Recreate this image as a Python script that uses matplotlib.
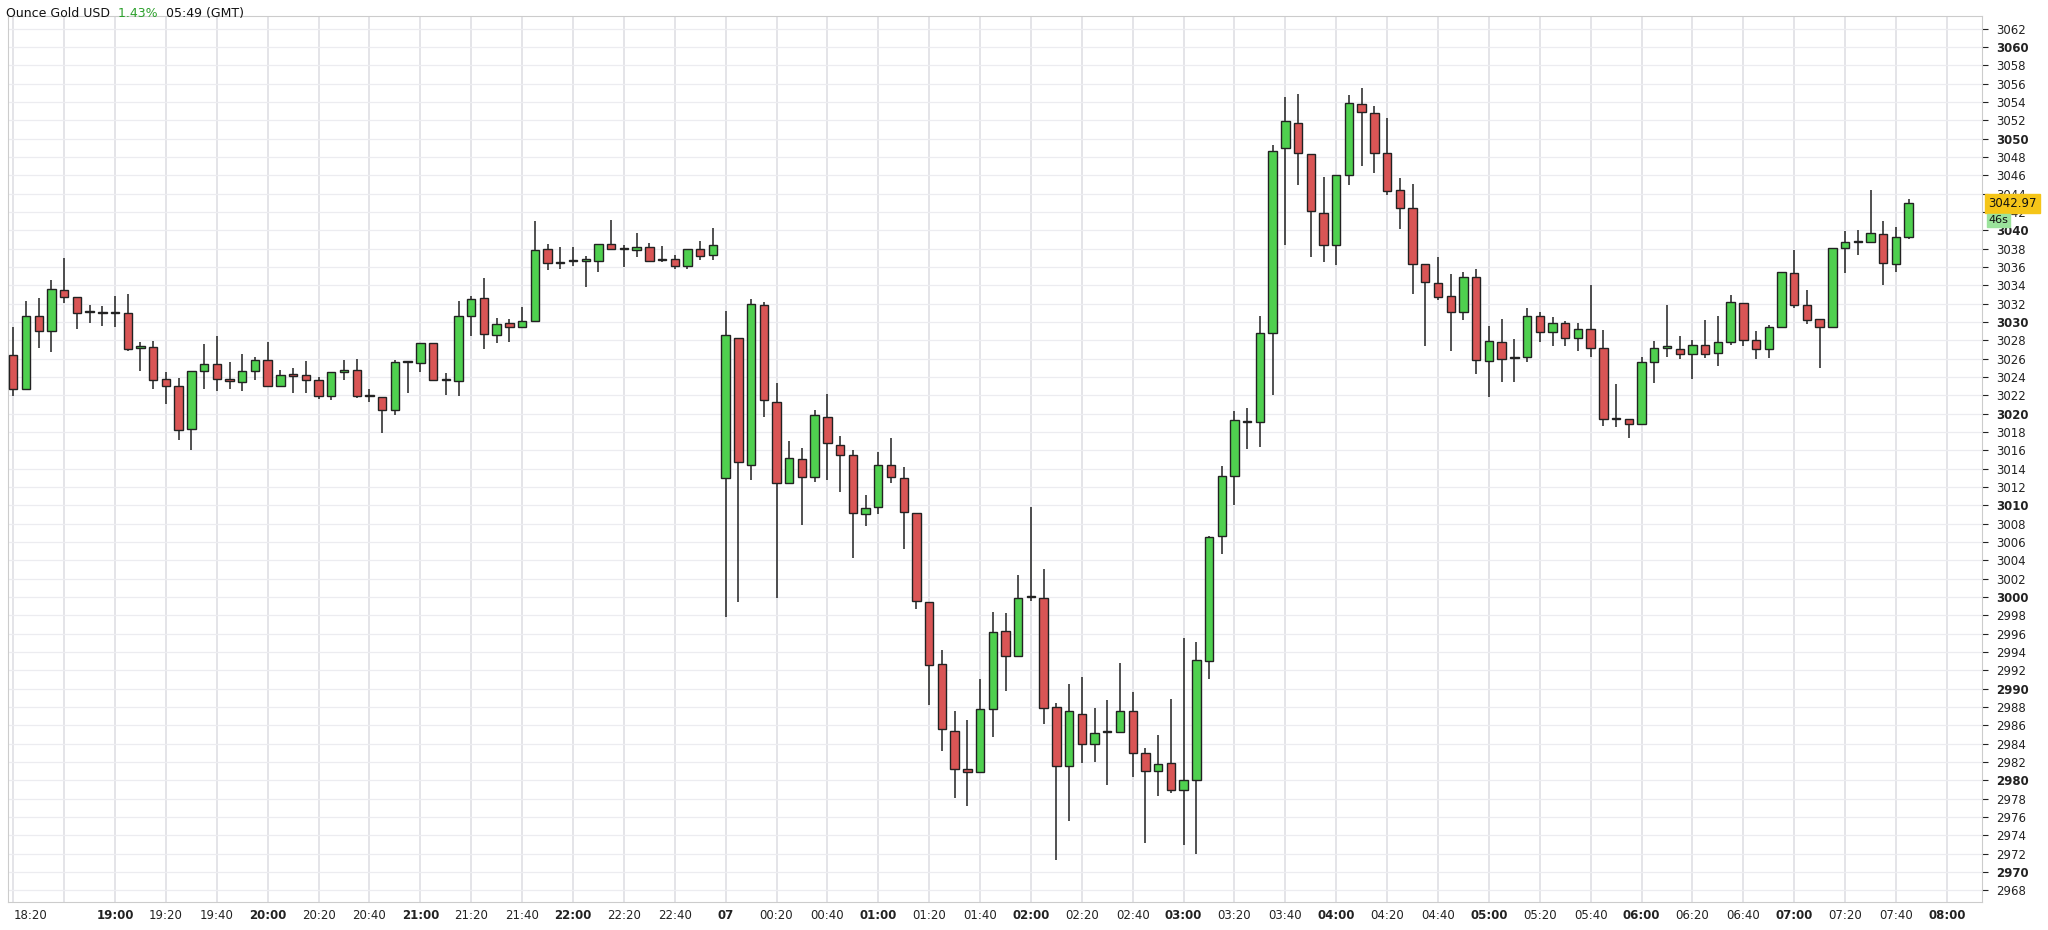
import matplotlib
matplotlib.use("Agg")
import matplotlib.pyplot as plt
from matplotlib.patches import Rectangle

# 5-minute candles, session 1: 18:20 - 22:55
open1 = [3026.4, 3022.7, 3030.7, 3029.0, 3033.5, 3032.7, 3031.1, 3031.1, 3031.0, 3031.0,
         3027.2, 3027.3, 3023.8, 3023.0, 3018.3, 3024.6, 3025.4, 3023.8, 3023.5, 3024.7,
         3025.8, 3023.0, 3024.3, 3024.2, 3023.7, 3021.9, 3024.5, 3024.8, 3022.0, 3021.8,
         3020.4, 3025.6, 3025.5, 3027.7, 3023.7, 3023.6, 3030.7, 3032.6, 3028.6, 3029.9,
         3029.4, 3030.1, 3038.0, 3036.4, 3036.6, 3036.7, 3036.7, 3038.5, 3038.0, 3037.9,
         3038.2, 3036.9, 3036.9, 3036.1, 3038.0, 3037.3]
high1 = [3029.5, 3032.3, 3032.6, 3034.6, 3037.0, 3032.7, 3031.9, 3031.7, 3032.8, 3033.0,
         3027.8, 3027.9, 3024.5, 3023.9, 3024.6, 3027.6, 3028.5, 3025.6, 3026.5, 3026.2,
         3027.8, 3024.8, 3025.0, 3025.7, 3024.0, 3024.5, 3025.9, 3026.0, 3022.7, 3021.8,
         3025.9, 3025.7, 3027.7, 3027.7, 3024.4, 3032.3, 3032.8, 3034.8, 3030.4, 3030.3,
         3031.6, 3041.0, 3038.5, 3038.2, 3038.2, 3037.2, 3038.5, 3041.1, 3038.4, 3039.7,
         3038.6, 3038.3, 3037.3, 3038.0, 3038.8, 3040.3]
low1 = [3021.9, 3022.7, 3027.2, 3026.7, 3032.1, 3029.2, 3029.9, 3029.6, 3029.5, 3026.8,
        3024.6, 3022.7, 3021.0, 3017.1, 3016.0, 3022.7, 3022.5, 3022.7, 3022.5, 3023.7,
        3023.0, 3022.9, 3022.2, 3022.2, 3021.6, 3021.5, 3023.7, 3021.7, 3021.3, 3017.9,
        3019.8, 3022.3, 3024.5, 3023.7, 3022.0, 3021.9, 3028.5, 3027.0, 3027.7, 3027.8,
        3029.4, 3030.1, 3035.7, 3035.8, 3036.1, 3033.8, 3035.5, 3037.8, 3036.0, 3037.1,
        3036.7, 3036.5, 3035.8, 3035.8, 3036.8, 3036.8]
close1 = [3022.7, 3030.7, 3029.0, 3033.6, 3032.7, 3031.0, 3031.1, 3031.0, 3031.0, 3027.1,
          3027.2, 3023.7, 3023.0, 3018.2, 3024.6, 3025.4, 3023.8, 3023.6, 3024.7, 3025.8,
          3023.0, 3024.2, 3024.1, 3023.7, 3021.9, 3024.5, 3024.8, 3021.9, 3021.9, 3020.4,
          3025.6, 3025.6, 3027.7, 3023.7, 3023.7, 3030.7, 3032.5, 3028.7, 3029.8, 3029.5,
          3030.1, 3037.9, 3036.4, 3036.4, 3036.6, 3036.7, 3038.5, 3038.0, 3038.0, 3038.2,
          3036.7, 3036.8, 3036.1, 3038.0, 3037.2, 3038.4]

# session 2: 00:00 - 07:45
open2 = [3013.0, 3028.2, 3014.4, 3031.9, 3021.3, 3012.4, 3015.0, 3013.1, 3019.6, 3016.6,
         3015.5, 3009.0, 3009.8, 3014.4, 3013.0, 3009.1, 2999.4, 2992.7, 2985.4, 2981.2,
         2980.9, 2987.8, 2996.3, 2993.5, 3000.0, 2999.9, 2988.0, 2981.6, 2987.2, 2983.9,
         2985.3, 2985.3, 2987.5, 2983.0, 2981.0, 2981.9, 2978.9, 2980.0, 2993.0, 3006.6,
         3013.2, 3019.1, 3019.1, 3028.8, 3049.0, 3051.7, 3048.3, 3041.9, 3038.4, 3046.0,
         3053.8, 3052.8, 3048.4, 3044.4, 3042.4, 3036.3, 3034.3, 3032.8, 3031.1, 3034.9,
         3025.7, 3027.8, 3026.1, 3026.2, 3030.6, 3028.9, 3029.9, 3028.2, 3029.2, 3027.2,
         3019.5, 3019.4, 3018.9, 3025.6, 3027.2, 3027.1, 3026.5, 3027.5, 3026.6, 3027.8,
         3032.1, 3028.0, 3027.0, 3029.4, 3035.3, 3031.9, 3030.3, 3029.5, 3038.1, 3038.7,
         3038.7, 3039.6, 3036.3, 3039.3]
high2 = [3031.2, 3028.2, 3032.5, 3032.2, 3023.3, 3017.0, 3016.2, 3020.4, 3022.1, 3017.6,
         3016.0, 3011.1, 3015.8, 3017.3, 3014.2, 3009.1, 2999.4, 2994.2, 2987.6, 2986.6,
         2991.0, 2998.3, 2998.2, 3002.4, 3009.8, 3003.0, 2988.4, 2990.5, 2991.3, 2987.9,
         2988.8, 2992.8, 2989.6, 2983.5, 2984.9, 2988.9, 2995.5, 2995.1, 3006.6, 3014.3,
         3020.3, 3020.6, 3030.7, 3049.3, 3054.5, 3054.9, 3048.3, 3045.8, 3046.0, 3054.8,
         3055.5, 3053.6, 3052.3, 3045.7, 3045.1, 3036.3, 3037.1, 3035.2, 3035.4, 3035.8,
         3029.6, 3030.3, 3028.1, 3031.5, 3031.1, 3030.5, 3030.1, 3029.9, 3034.0, 3029.1,
         3023.2, 3019.4, 3026.2, 3027.9, 3031.9, 3028.5, 3028.0, 3030.2, 3030.6, 3032.9,
         3032.1, 3029.0, 3029.7, 3035.5, 3037.8, 3033.5, 3030.3, 3038.1, 3039.9, 3040.0,
         3044.4, 3041.0, 3040.4, 3043.4]
low2 = [2997.8, 2999.4, 3012.7, 3019.6, 2999.9, 3012.4, 3007.8, 3012.5, 3012.8, 3011.4,
        3004.2, 3007.7, 3009.0, 3012.4, 3005.2, 2998.7, 2988.2, 2983.2, 2978.1, 2977.2,
        2980.9, 2984.7, 2989.7, 2993.5, 2999.6, 2986.1, 2971.3, 2975.5, 2981.9, 2982.0,
        2979.5, 2985.3, 2980.3, 2973.2, 2978.3, 2978.6, 2972.9, 2972.0, 2991.0, 3004.7,
        3010.0, 3016.1, 3016.3, 3022.0, 3038.4, 3044.9, 3037.1, 3036.5, 3036.2, 3044.9,
        3047.0, 3046.3, 3043.9, 3040.1, 3033.0, 3027.4, 3032.4, 3026.8, 3030.2, 3024.3,
        3021.8, 3023.5, 3023.4, 3025.6, 3027.8, 3027.4, 3027.4, 3026.8, 3026.2, 3018.7,
        3018.5, 3017.3, 3018.9, 3023.3, 3026.2, 3026.0, 3023.8, 3026.1, 3025.2, 3027.5,
        3027.4, 3026.0, 3026.1, 3029.4, 3031.5, 3029.8, 3025.0, 3029.4, 3035.3, 3037.3,
        3038.7, 3034.0, 3035.5, 3039.0]
close2 = [3028.6, 3014.7, 3032.0, 3021.5, 3012.4, 3015.1, 3013.1, 3019.8, 3016.8, 3015.5,
          3009.1, 3009.7, 3014.4, 3013.1, 3009.3, 2999.5, 2992.6, 2985.6, 2981.2, 2980.9,
          2987.8, 2996.2, 2993.6, 2999.9, 3000.0, 2987.9, 2981.6, 2987.5, 2983.9, 2985.2,
          2985.3, 2987.5, 2983.0, 2981.0, 2981.8, 2978.9, 2980.0, 2993.1, 3006.5, 3013.2,
          3019.3, 3019.1, 3028.8, 3048.7, 3051.9, 3048.4, 3042.1, 3038.4, 3046.0, 3053.9,
          3052.9, 3048.4, 3044.3, 3042.4, 3036.3, 3034.4, 3032.7, 3031.1, 3034.9, 3025.9,
          3027.9, 3026.0, 3026.1, 3030.7, 3028.9, 3029.9, 3028.2, 3029.2, 3027.2, 3019.4,
          3019.4, 3018.9, 3025.6, 3027.2, 3027.2, 3026.5, 3027.5, 3026.5, 3027.8, 3032.2,
          3028.0, 3027.0, 3029.4, 3035.4, 3031.9, 3030.2, 3029.5, 3038.1, 3038.7, 3038.7,
          3039.7, 3036.4, 3039.3, 3042.97]

opens = open1 + open2
highs = high1 + high2
lows = low1 + low2
closes = close1 + close2

# x tick labels (every 20 minutes), session 2 starts at slot 56
xtick_pos = [0] + list(range(8, 53, 4)) + list(range(56, 153, 4))
xtick_labels = ["18:20", "19:00", "19:20", "19:40", "20:00", "20:20", "20:40", "21:00",
                "21:20", "21:40", "22:00", "22:20", "22:40",
                "07", "00:20", "00:40", "01:00", "01:20", "01:40", "02:00", "02:20", "02:40",
                "03:00", "03:20", "03:40", "04:00", "04:20", "04:40", "05:00", "05:20",
                "05:40", "06:00", "06:20", "06:40", "07:00", "07:20", "07:40", "08:00"]
grid_pos = list(range(0, 53, 4)) + list(range(56, 153, 4))

green = "#4fd04f"
red = "#d95555"

fig = plt.figure(figsize=(20.48, 9.3), dpi=100)
ax = fig.add_axes([0.004, 0.03, 0.964, 0.953])

for i in range(len(opens)):
    o, h, l, c = opens[i], highs[i], lows[i], closes[i]
    col = green if c >= o else red
    ax.vlines(i, l, h, color="#333333", lw=1.2, zorder=2)
    body = max(abs(c - o), 0.12)
    ax.add_patch(Rectangle((i - 0.33, min(o, c)), 0.66, body, facecolor=col,
                           edgecolor="#222222", lw=1.0, zorder=3))

ax.set_xlim(-0.4, 154.8)
ax.set_ylim(2966.7, 3063.4)

for p in grid_pos:
    ax.axvline(p, color="#e2e2e6", lw=1.3, zorder=0)
yt = list(range(2968, 3063, 2))
for v in yt:
    ax.axhline(v, color="#ececf0", lw=0.9, zorder=0)

ax.yaxis.tick_right()
ax.set_yticks(yt)
ax.set_yticklabels([str(v) for v in yt], fontsize=8.5)
for lab, v in zip(ax.get_yticklabels(), yt):
    if v % 10 == 0:
        lab.set_fontweight("bold")
ax.tick_params(axis="y", length=4, pad=6, colors="#222222", width=0.8)

ax.set_xticks(xtick_pos)
ax.set_xticklabels(xtick_labels, fontsize=8.5)
for lab, t in zip(ax.get_xticklabels(), xtick_labels):
    if t.endswith(":00") or t == "07":
        lab.set_fontweight("bold")
    if t == "18:20":
        lab.set_horizontalalignment("left")
ax.tick_params(axis="x", length=0, pad=5, colors="#222222")

for s in ax.spines.values():
    s.set_color("#cccccc")
    s.set_linewidth(0.8)

# last price marker
ax.text(1.003, 3042.97, "3042.97", transform=ax.get_yaxis_transform(), fontsize=8.5,
        va="center", ha="left", color="#111111",
        bbox=dict(boxstyle="square,pad=0.25", fc="#f5c518", ec="#f5c518"))
ax.text(1.003, 3041.1, "46s", transform=ax.get_yaxis_transform(), fontsize=8,
        va="center", ha="left", color="#111111",
        bbox=dict(boxstyle="square,pad=0.15", fc="#9be39b", ec="#9be39b"))

# title made of three coloured pieces placed one after another
fig.canvas.draw()
r = fig.canvas.get_renderer()
xpos = 0.003
for txt, col in [("Ounce Gold USD ", "#111111"), ("1.43% ", "#2ca02c"), ("05:49 (GMT)", "#111111")]:
    t = fig.text(xpos, 0.993, txt, fontsize=9, va="top", ha="left", color=col)
    w = t.get_window_extent(renderer=r).width
    xpos += w / fig.bbox.width + 0.002

fig.savefig("out.png", dpi=100, facecolor="white")
